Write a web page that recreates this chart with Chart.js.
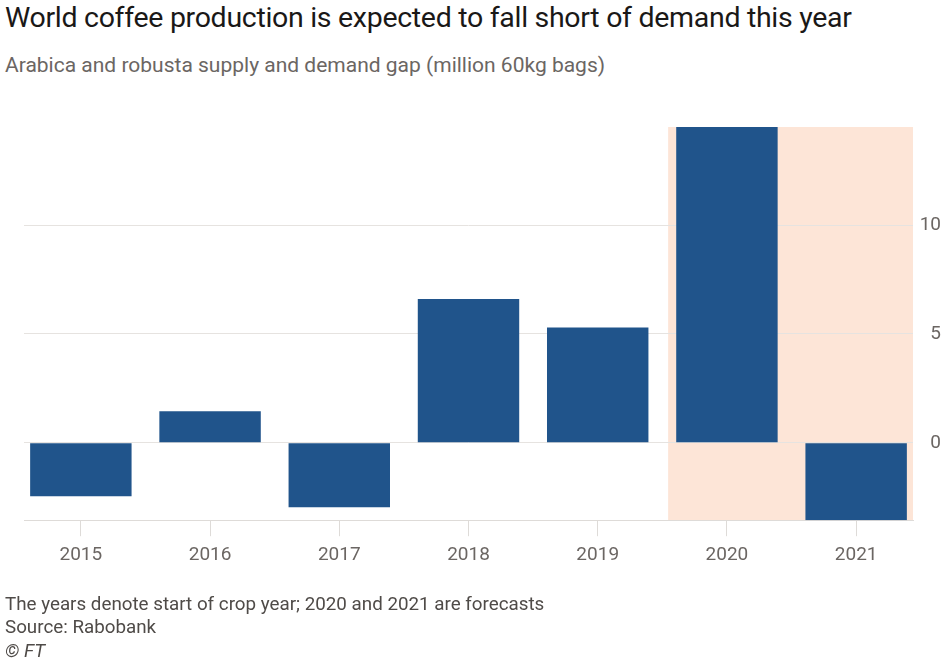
<!DOCTYPE html>
<html>
<head>
<meta charset="utf-8">
<script src="https://cdn.jsdelivr.net/npm/chart.js@4.4.1/dist/chart.umd.min.js"></script>
<style>
  html, body { margin: 0; padding: 0; background: #fff; }
  body { width: 948px; height: 667px; position: relative; overflow: hidden; font-family: Roboto, sans-serif; }
  #wrap { position: absolute; left: 0; top: 0; width: 948px; height: 667px; }
  .txt { position: absolute; left: 5px; white-space: nowrap; }
  #title { top: 1px; font-size: 28.5px; color: #1a1817; letter-spacing: -0.3px; }
  #subtitle { top: 53px; font-size: 21px; color: #6b6663; }
  .foot { font-size: 18.8px; color: #4f4b48; }
</style>
</head>
<body>
<div id="title" class="txt">World coffee production is expected to fall short of demand this year</div>
<div id="subtitle" class="txt">Arabica and robusta supply and demand gap (million 60kg bags)</div>
<div id="wrap"><canvas id="myChart"></canvas></div>
<div class="txt foot" style="top:593px">The years denote start of crop year; 2020 and 2021 are forecasts</div>
<div class="txt foot" style="top:616px">Source: Rabobank</div>
<div class="txt foot" style="top:640px; font-style: italic;">© FT</div>
<script>
// crop years and supply/demand gap (million 60kg bags)
const years = [2015, 2016, 2017, 2018, 2019, 2020, 2021];
const gap = [-2.45, 1.45, -2.95, 6.6, 5.3, 14.5, -3.55];
const forecastYears = [2020, 2021];
const yTicks = [0, 5, 10];

const forecastShade = {
    id: 'forecastShade',
    beforeDraw(chart) {
        const { ctx, chartArea, scales } = chart;
        const x = scales.x;
        const step = x.getPixelForValue(years[1]) - x.getPixelForValue(years[0]);
        const left = x.getPixelForValue(forecastYears[0]) - step * 0.455;
        ctx.save();
        ctx.fillStyle = '#fde5d7';
        ctx.fillRect(left, chartArea.top, chartArea.right - left, chartArea.bottom - chartArea.top);
        ctx.restore();
    }
};

document.addEventListener('DOMContentLoaded', () => {
    const ctx = document.getElementById('myChart');
    new Chart(ctx, {
        type: 'bar',
        data: {
            datasets: [{
                data: years.map((y, i) => ({ x: y, y: gap[i] })),
                backgroundColor: '#20548b',
                categoryPercentage: 1,
                barPercentage: 0.785
            }]
        },
        options: {
            responsive: true,
            maintainAspectRatio: false,
            animation: false,
            layout: { padding: { top: 127, left: 24, right: 7, bottom: 92 } },
            scales: {
                x: {
                    type: 'linear',
                    offset: false,
                    min: years[0] - 0.44,
                    max: years[years.length - 1] + 0.44,
                    afterBuildTicks: axis => { axis.ticks = years.map(v => ({ value: v })); },
                    ticks: {
                        callback: v => String(v),
                        color: '#6b6663',
                        font: { family: 'Roboto', size: 19 },
                        padding: 8,
                        maxRotation: 0,
                        autoSkip: false
                    },
                    grid: {
                        offset: false,
                        drawOnChartArea: false,
                        tickLength: 16,
                        color: '#dedbd8'
                    },
                    border: { color: '#dedbd8' }
                },
                y: {
                    position: 'right',
                    min: Math.min(...gap),
                    max: Math.max(...gap),
                    afterBuildTicks: axis => { axis.ticks = yTicks.map(v => ({ value: v })); },
                    afterFit: axis => { axis.width = 28; },
                    ticks: {
                        color: '#6b6663',
                        font: { family: 'Roboto', size: 19 },
                        padding: 6,
                        crossAlign: 'far'
                    },
                    grid: {
                        drawTicks: false,
                        color: '#e6e3e0'
                    },
                    border: { display: false }
                }
            },
            plugins: {
                legend: { display: false },
                tooltip: { enabled: false }
            }
        },
        plugins: [forecastShade]
    });
});
</script>
</body>
</html>
